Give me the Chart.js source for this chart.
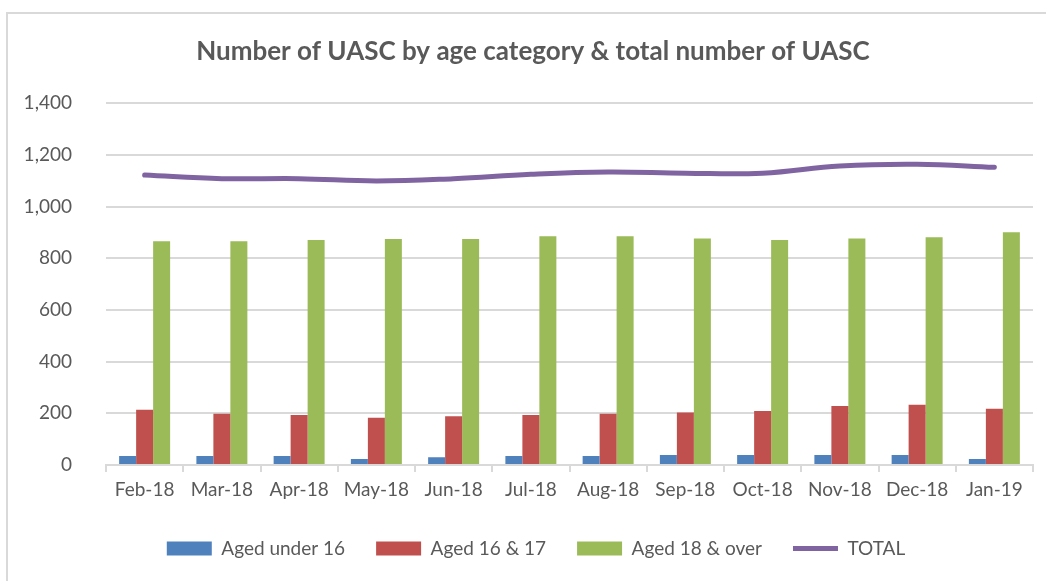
<!DOCTYPE html>
<html>
<head>
<meta charset="utf-8">
<script src="https://cdn.jsdelivr.net/npm/chart.js@4"></script>
<style>
  body { margin: 0; background: #fff; }
  #chart { display: block; }
</style>
</head>
<body>
<canvas id="chart" width="1046" height="581"></canvas>
<script>
const months = ['Feb-18', 'Mar-18', 'Apr-18', 'May-18', 'Jun-18', 'Jul-18', 'Aug-18', 'Sep-18', 'Oct-18', 'Nov-18', 'Dec-18', 'Jan-19'];
const under16 = [35, 35, 35, 23, 30, 35, 35, 39, 39, 39, 39, 23];
const aged16and17 = [214, 198, 193, 183, 189, 193, 198, 203, 209, 228, 233, 218];
const aged18andOver = [866, 866, 871, 875, 875, 885, 885, 876, 871, 876, 881, 901];
const total = [1122, 1108, 1108, 1099, 1108, 1125, 1134, 1129, 1129, 1157, 1164, 1152];
const yTicks = [0, 200, 400, 600, 800, 1000, 1200, 1400];

const textColor = '#595959';
const gridColor = '#d9d9d9';
const fontFamily = 'Lato, "Open Sans", sans-serif';
const ctx = document.querySelector('#chart').getContext('2d');

// outer frame of the chart (only top and left edges show in the picture)
const framePlugin = {
    id: 'frame',
    afterLayout(chart) {
        // title and legend sit a bit right of the canvas centre in the original
        chart.titleBlock.left += 33;
        chart.legend.left += 39;
    },
    beforeDraw(chart) {
        const c = chart.ctx;
        c.save();
        c.strokeStyle = gridColor;
        c.lineWidth = 2;
        c.beginPath();
        c.moveTo(7, 581);
        c.lineTo(7, 13);
        c.lineTo(1046, 13);
        c.stroke();
        c.restore();
    }
};

const barDataset = (label, data, color) => ({
    type: 'bar',
    label: label,
    data: data,
    backgroundColor: color,
    borderWidth: 0,
    pointStyle: 'rect',
    categoryPercentage: 0.66,
    barPercentage: 1
});

new Chart(ctx, {
    data: {
        labels: months,
        datasets: [
            barDataset('Aged under 16', under16, '#4f81bd'),
            barDataset('Aged 16 & 17', aged16and17, '#c0504d'),
            barDataset('Aged 18 & over', aged18andOver, '#9bbb59'),
            {
                type: 'line',
                label: 'TOTAL',
                data: total,
                borderColor: '#8064a2',
                backgroundColor: '#8064a2',
                borderWidth: 5,
                borderCapStyle: 'round',
                tension: 0.4,
                pointRadius: 0,
                pointStyle: 'line'
            }
        ]
    },
    options: {
        responsive: false,
        animation: false,
        layout: { padding: { left: 0, right: 13, top: 0, bottom: 13 } },
        plugins: {
            title: {
                display: true,
                text: 'Number of UASC by age category & total number of UASC',
                color: textColor,
                font: { family: fontFamily, size: 26, weight: 'bold' },
                padding: { top: 36, bottom: 36 }
            },
            legend: {
                position: 'bottom',
                labels: {
                    color: textColor,
                    font: { family: fontFamily, size: 19 },
                    usePointStyle: true,
                    pointStyleWidth: 45,
                    boxHeight: 14,
                    padding: 31
                }
            },
            tooltip: { enabled: false }
        },
        scales: {
            x: {
                offset: true,
                grid: {
                    offset: true,
                    drawOnChartArea: false,
                    drawTicks: true,
                    tickLength: 7,
                    color: gridColor,
                    lineWidth: 2
                },
                border: { display: true, color: gridColor, width: 2 },
                ticks: {
                    color: textColor,
                    font: { family: fontFamily, size: 19 },
                    padding: 6,
                    maxRotation: 0
                },
                afterFit(scale) { scale.height = 43; }
            },
            y: {
                min: 0,
                max: 1400,
                afterBuildTicks(scale) { scale.ticks = yTicks.map(v => ({ value: v })); },
                grid: { color: gridColor, lineWidth: 2, drawTicks: false },
                border: { display: false },
                ticks: {
                    color: textColor,
                    font: { family: fontFamily, size: 19 },
                    padding: 34,
                    callback: value => value.toLocaleString('en-GB')
                },
                afterFit(scale) { scale.width = 106; }
            }
        }
    },
    plugins: [framePlugin]
});
</script>
</body>
</html>
